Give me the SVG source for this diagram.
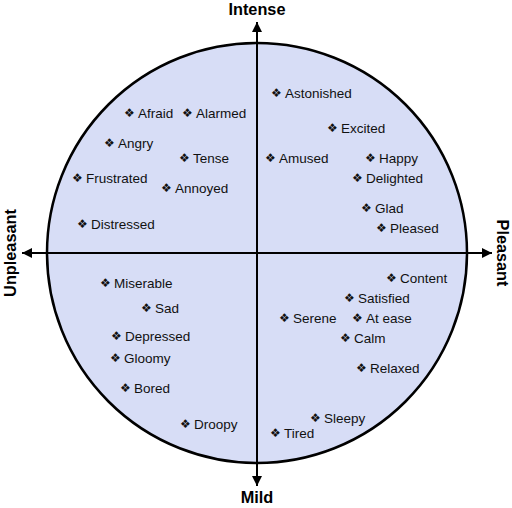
<svg xmlns="http://www.w3.org/2000/svg" width="512" height="508" viewBox="0 0 512 508">
<defs>
<marker id="ah" viewBox="0 0 10 10" refX="10" refY="5" markerWidth="10" markerHeight="11" markerUnits="userSpaceOnUse" orient="auto-start-reverse">
<path d="M0,0 L10,5 L0,10 Z" fill="#000"/>
</marker>
<style>
.lb{font-family:"Liberation Sans","DejaVu Sans",sans-serif;font-size:13.5px;fill:#111}
.dm{font-family:"DejaVu Sans",sans-serif;font-size:12px;fill:#111}
.ax{font-family:"Liberation Sans",sans-serif;font-size:16.3px;font-weight:bold;fill:#000;text-anchor:middle}
.axl{stroke:#000;stroke-width:2;fill:none}
</style>
</defs>
<rect width="512" height="508" fill="#fff"/>
<circle id="circle" cx="257" cy="253" r="210" fill="#d7ddf6" stroke="#000" stroke-width="2.5"/>
<g id="axes">
<line class="axl" x1="257" y1="22" x2="257" y2="486" marker-start="url(#ah)" marker-end="url(#ah)"/>
<line class="axl" x1="22" y1="253" x2="492" y2="253" marker-start="url(#ah)" marker-end="url(#ah)"/>
</g>
<text class="ax" x="257" y="15">Intense</text>
<text class="ax" x="257" y="503">Mild</text>
<text class="ax" transform="translate(16,253) rotate(-90)">Unpleasant</text>
<text class="ax" transform="translate(497,253) rotate(90)">Pleasant</text>
<g id="n-afraid"><text class="dm" x="124" y="117">❖</text><text class="lb" x="138" y="118">Afraid</text></g>
<g id="n-alarmed"><text class="dm" x="182" y="117">❖</text><text class="lb" x="196" y="118">Alarmed</text></g>
<g id="n-angry"><text class="dm" x="104" y="147">❖</text><text class="lb" x="118" y="148">Angry</text></g>
<g id="n-tense"><text class="dm" x="179" y="162">❖</text><text class="lb" x="193" y="163">Tense</text></g>
<g id="n-frustrated"><text class="dm" x="72" y="182">❖</text><text class="lb" x="86" y="183">Frustrated</text></g>
<g id="n-annoyed"><text class="dm" x="161" y="192">❖</text><text class="lb" x="175" y="193">Annoyed</text></g>
<g id="n-distressed"><text class="dm" x="77" y="228">❖</text><text class="lb" x="91" y="229">Distressed</text></g>
<g id="n-astonished"><text class="dm" x="271" y="97">❖</text><text class="lb" x="285" y="98">Astonished</text></g>
<g id="n-excited"><text class="dm" x="327" y="132">❖</text><text class="lb" x="341" y="133">Excited</text></g>
<g id="n-amused"><text class="dm" x="265" y="162">❖</text><text class="lb" x="279" y="163">Amused</text></g>
<g id="n-happy"><text class="dm" x="365" y="162">❖</text><text class="lb" x="379" y="163">Happy</text></g>
<g id="n-delighted"><text class="dm" x="352" y="182">❖</text><text class="lb" x="366" y="183">Delighted</text></g>
<g id="n-glad"><text class="dm" x="361" y="212">❖</text><text class="lb" x="375" y="213">Glad</text></g>
<g id="n-pleased"><text class="dm" x="376" y="232">❖</text><text class="lb" x="390" y="233">Pleased</text></g>
<g id="n-miserable"><text class="dm" x="100" y="287">❖</text><text class="lb" x="114" y="288">Miserable</text></g>
<g id="n-sad"><text class="dm" x="141" y="312">❖</text><text class="lb" x="155" y="313">Sad</text></g>
<g id="n-depressed"><text class="dm" x="111" y="340">❖</text><text class="lb" x="125" y="341">Depressed</text></g>
<g id="n-gloomy"><text class="dm" x="110" y="362">❖</text><text class="lb" x="124" y="363">Gloomy</text></g>
<g id="n-bored"><text class="dm" x="120" y="392">❖</text><text class="lb" x="134" y="393">Bored</text></g>
<g id="n-droopy"><text class="dm" x="180" y="428">❖</text><text class="lb" x="194" y="429">Droopy</text></g>
<g id="n-content"><text class="dm" x="386" y="282">❖</text><text class="lb" x="400" y="283">Content</text></g>
<g id="n-satisfied"><text class="dm" x="344" y="302">❖</text><text class="lb" x="358" y="303">Satisfied</text></g>
<g id="n-serene"><text class="dm" x="279" y="322">❖</text><text class="lb" x="293" y="323">Serene</text></g>
<g id="n-atease"><text class="dm" x="352" y="322">❖</text><text class="lb" x="366" y="323">At ease</text></g>
<g id="n-calm"><text class="dm" x="340" y="342">❖</text><text class="lb" x="354" y="343">Calm</text></g>
<g id="n-relaxed"><text class="dm" x="356" y="372">❖</text><text class="lb" x="370" y="373">Relaxed</text></g>
<g id="n-sleepy"><text class="dm" x="310" y="422">❖</text><text class="lb" x="324" y="423">Sleepy</text></g>
<g id="n-tired"><text class="dm" x="270" y="437">❖</text><text class="lb" x="284" y="438">Tired</text></g>
</svg>
